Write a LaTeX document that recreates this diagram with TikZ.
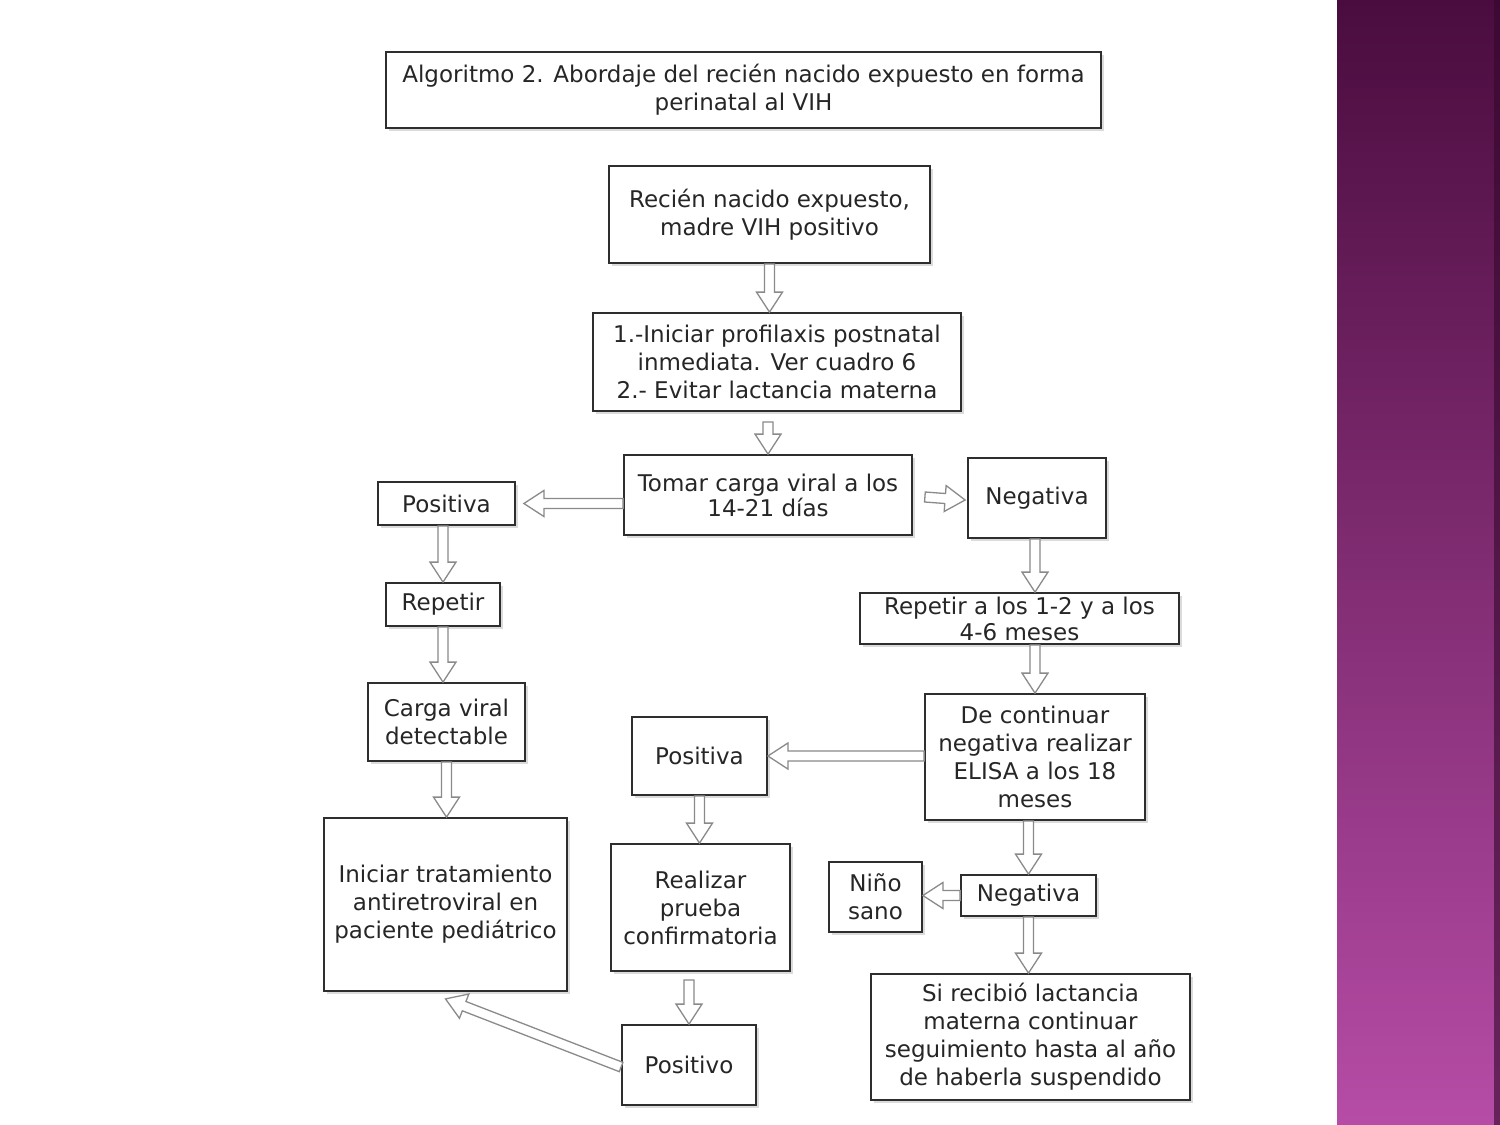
\documentclass[tikz,border=0pt]{standalone}
\usepackage{fontspec}
\setmainfont{DejaVu Sans}
\usetikzlibrary{calc,shadows}
\definecolor{boxline}{HTML}{2E2E2E}
\definecolor{arrowgray}{HTML}{8A8A8A}
\definecolor{bartop}{HTML}{4A0C3E}
\definecolor{barmid}{HTML}{7B2D70}
\definecolor{barbot}{HTML}{B64CA6}

% hollow block arrow between two points
\newcommand{\hollowarrow}[2]{%
  \coordinate (ha) at #1;
  \coordinate (hb) at #2;
  \coordinate (hc) at ($(hb)!20pt!(ha)$);
  \draw[arrowgray, fill=white, line width=1.3pt]
    ($(ha)!5pt!90:(hb)$) -- ($(hc)!5pt!90:(hb)$) -- ($(hc)!13pt!90:(hb)$) -- (hb)
    -- ($(hc)!13pt!-90:(hb)$) -- ($(hc)!5pt!-90:(hb)$) -- ($(ha)!5pt!-90:(hb)$) -- cycle;
}

\begin{document}
\begin{tikzpicture}[x=1pt, y=-1pt,
  box/.style={draw=boxline, line width=1.8pt, fill=white, align=center, inner sep=0pt,
    text=black!85, font=\fontsize{23}{28}\selectfont,
    drop shadow={shadow xshift=3pt, shadow yshift=-3pt, fill=black!20, opacity=0.7}}]
  \useasboundingbox (0,0) rectangle (1500,1125);
  \fill[white] (0,0) rectangle (1500,1125);
  % side bar
  \shade[top color=bartop, middle color=barmid, bottom color=barbot] (1337,0) rectangle (1500,1125);
  \fill[bartop!70!black, opacity=0.6] (1494,0) rectangle (1500,1125);

  \node[box, minimum width=715, minimum height=76] (title) at (743.5,90)
    {Algoritmo 2. Abordaje del recién nacido expuesto en forma\\perinatal al VIH};
  \node[box, minimum width=321, minimum height=97] (recien) at (769.5,214.5)
    {Recién nacido expuesto,\\madre VIH positivo};
  \node[box, minimum width=368, minimum height=98] (profilaxis) at (777,362)
    {1.-Iniciar profilaxis postnatal\\inmediata. Ver cuadro 6\\2.- Evitar lactancia materna};
  \node[box, minimum width=288, minimum height=80, font=\fontsize{23}{25}\selectfont] (carga) at (768,495)
    {Tomar carga viral a los\\14-21 días};
  \node[box, minimum width=137, minimum height=43] (posizq) at (446.5,503.5) {Positiva};
  \node[box, minimum width=138, minimum height=80] (neg) at (1037,498) {Negativa};
  \node[box, minimum width=114, minimum height=43] (repetir) at (443,604.5) {Repetir};
  \node[box, minimum width=319, minimum height=51, font=\fontsize{23}{26}\selectfont] (meses) at (1019.5,618.5)
    {Repetir a los 1-2 y a los\\4-6 meses};
  \node[box, minimum width=157, minimum height=78] (detectable) at (446.5,722)
    {Carga viral\\detectable};
  \node[box, minimum width=220, minimum height=126] (continuar) at (1035,757)
    {De continuar\\negativa realizar\\ELISA a los 18\\meses};
  \node[box, minimum width=135, minimum height=78] (posmedio) at (699.5,756) {Positiva};
  \node[box, minimum width=243, minimum height=173] (tratamiento) at (445.5,904.5)
    {Iniciar tratamiento\\antiretroviral en\\paciente pediátrico};
  \node[box, minimum width=179, minimum height=127] (prueba) at (700.5,907.5)
    {Realizar\\prueba\\confirmatoria};
  \node[box, minimum width=93, minimum height=70] (sano) at (875.5,897) {Niño\\sano};
  \node[box, minimum width=135, minimum height=41] (negabajo) at (1028.5,895.5) {Negativa};
  \node[box, minimum width=319, minimum height=126] (lactancia) at (1030.5,1037)
    {Si recibió lactancia\\materna continuar\\seguimiento hasta al año\\de haberla suspendido};
  \node[box, minimum width=134, minimum height=80] (positivo) at (689,1065) {Positivo};

  % arrows
  \hollowarrow{(recien.south)}{(profilaxis.north -| recien.south)}
  \hollowarrow{($(profilaxis.south -| carga.north)+(0,10)$)}{(carga.north)}
  \hollowarrow{(carga.west |- posizq.east)}{($(posizq.east)+(8,0)$)}
  \hollowarrow{($(carga.east)+(12,2)$)}{($(neg.west)+(-2,2)$)}
  \hollowarrow{(posizq.south -| repetir.north)}{(repetir.north)}
  \hollowarrow{(repetir.south)}{(detectable.north -| repetir.south)}
  \hollowarrow{(detectable.south)}{(tratamiento.north -| detectable.south)}
  \hollowarrow{(neg.south -| continuar.north)}{(meses.north -| continuar.north)}
  \hollowarrow{(meses.south -| continuar.north)}{(continuar.north)}
  \hollowarrow{(continuar.west |- posmedio.east)}{(posmedio.east)}
  \hollowarrow{(posmedio.south)}{(prueba.north -| posmedio.south)}
  \hollowarrow{(continuar.south -| negabajo.north)}{(negabajo.north)}
  \hollowarrow{(negabajo.west)}{(sano.east |- negabajo.west)}
  \hollowarrow{(negabajo.south)}{(lactancia.north -| negabajo.south)}
  \hollowarrow{($(prueba.south -| positivo.north)+(0,8)$)}{(positivo.north)}
  \hollowarrow{($(positivo.west)+(0,2)$)}{($(tratamiento.south)+(0,7)$)}
\end{tikzpicture}
\end{document}
